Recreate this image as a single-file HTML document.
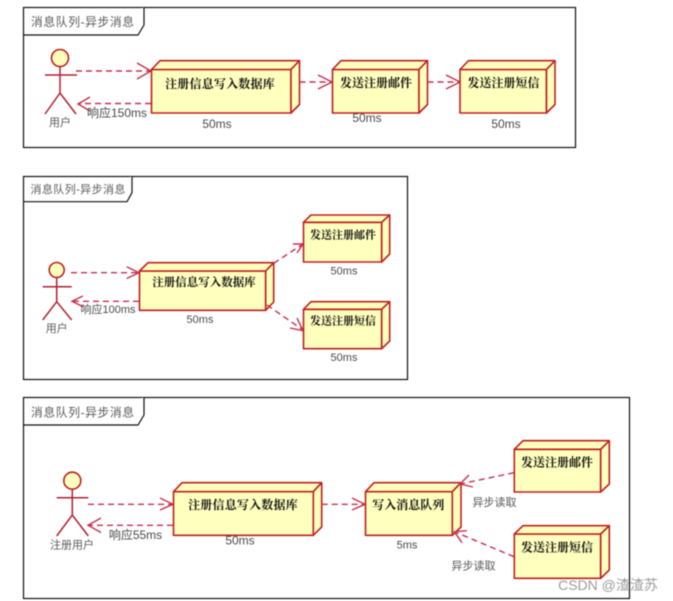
<!DOCTYPE html>
<html><head><meta charset="utf-8"><style>
html,body{margin:0;padding:0;background:#fff}
svg{display:block;filter:blur(.5px)}
text{font-family:"Liberation Sans","Noto Sans CJK SC",sans-serif;fill:#4a4a4a;font-size:12px;text-anchor:middle;dominant-baseline:central}
.t{font-size:11.8px;fill:#5a5a5a;text-anchor:start}
.n{font-family:"Liberation Serif","Noto Serif CJK SC",serif;font-weight:700;fill:#111;font-size:12px}
.f{fill:#fff;stroke:#111;stroke-width:1.2}
.b{fill:#ffffbe;stroke:#c01f1f;stroke-width:1.6;stroke-linejoin:round}
.d{fill:none;stroke:#c4304c;stroke-width:1.4;stroke-dasharray:6 4}
.h{fill:none;stroke:#c4304c;stroke-width:1.4}
.a{fill:none;stroke:#b02030;stroke-width:1.5}
.g{fill:#5a5a5a;font-size:11px}
</style></head><body>
<svg width="673" height="601" viewBox="0 0 673 601" xmlns="http://www.w3.org/2000/svg">
<rect width="673" height="601" fill="#fff"/>

<!-- Diagram 1 -->
<rect class="f" x="23.5" y="7.5" width="552" height="140"/>
<path class="f" d="M23.5 35H138L144 25V7.5"/>
<text class="t" x="31" y="22" style="font-size:11.8px;letter-spacing:.6px">消息队列-异步消息</text>

<circle class="b" cx="60" cy="58" r="8.5"/>
<path class="a" d="M45 75H77M60 66.500V93M45 114L60 93L76 114"/>
<text class="g" x="60" y="123">用户</text>
<path class="d" d="M76 71H151"/><path class="h" d="M137 63L151 71L137 79"/>
<path class="d" d="M151 103.500H78"/><path class="h" d="M90 97L78 104L90 111"/>
<text x="117" y="113">响应150ms</text>

<path class="b" d="M151.500 69.500H291V113H151.500Z"/><path class="b" d="M151.500 69.500L160 60.700H299.500L291 69.500Z"/><path class="b" d="M291 69.500L299.500 60.700V104.500L291 113Z"/>
<text class="n" x="220" y="84" style="letter-spacing:.2px">注册信息写入数据库</text>
<text x="217" y="124">50ms</text>

<path class="d" d="M299.500 82H332"/><path class="h" d="M318 75L332 82L318 89"/>
<path class="b" d="M332.500 69.500H419V113H332.500Z"/><path class="b" d="M332.500 69.500L341 60.700H427.500L419 69.500Z"/><path class="b" d="M419 69.500L427.500 60.700V104.500L419 113Z"/>
<text class="n" x="376" y="83">发送注册邮件</text>
<text x="367" y="118">50ms</text>

<path class="d" d="M427.500 82H460"/><path class="h" d="M446 75L460 82L446 89"/>
<path class="b" d="M460 69.500H546.500V113H460Z"/><path class="b" d="M460 69.500L468.500 60.700H555L546.500 69.500Z"/><path class="b" d="M546.500 69.500L555 60.700V104.500L546.500 113Z"/>
<text class="n" x="503.500" y="83">发送注册短信</text>
<text x="506" y="124">50ms</text>

<!-- Diagram 2 -->
<rect class="f" x="23.500" y="176.500" width="384" height="203"/>
<path class="f" d="M23.500 201.700H127L132 192.700V176.500"/>
<text class="t" x="30.500" y="190" style="font-size:11px;letter-spacing:.4px">消息队列-异步消息</text>

<circle class="b" cx="56.700" cy="270" r="7.500"/>
<path class="a" d="M42.700 286.700H71.700M56.700 277.500V301.700M42.700 320L56.700 301.700L71.700 320"/>
<text class="g" x="56.700" y="329">用户</text>
<path class="d" d="M71 272.700H139"/><path class="h" d="M126.700 266.700L139 272.700L126.700 278.500"/>
<path class="d" d="M139 301.300H72"/><path class="h" d="M83 296L72 301.300L83 306.700"/>
<text x="108" y="310" style="font-size:11px">响应100ms</text>

<path class="b" d="M139.500 271H265.700V310.300H139.500Z"/><path class="b" d="M139.500 271L148 262.700H273.700L265.700 271Z"/><path class="b" d="M265.700 271L273.700 262.700V302L265.700 310.300Z"/>
<text class="n" x="204" y="283" style="font-size:11.500px">注册信息写入数据库</text>
<text x="200" y="320" style="font-size:11px">50ms</text>

<path class="d" d="M273.700 263.300L303 244"/><path class="h" d="M293 244L303 244L297 253"/>
<path class="b" d="M303.500 222.300H381.700V262H303.500Z"/><path class="b" d="M303.500 222.300L311 215H389.700L381.700 222.300Z"/><path class="b" d="M381.700 222.300L389.700 215V254L381.700 262Z"/>
<text class="n" x="343" y="235.700" style="font-size:11px">发送注册邮件</text>
<text x="344" y="271.700" style="font-size:11px">50ms</text>

<path class="d" d="M267 305L303 330"/><path class="h" d="M290 328L303 330.700L297 318"/>
<path class="b" d="M303.500 309.300H381.700V348.700H303.500Z"/><path class="b" d="M303.500 309.300L311 301.700H389.700L381.700 309.300Z"/><path class="b" d="M381.700 309.300L389.700 301.700V341L381.700 348.700Z"/>
<text class="n" x="343" y="321.700" style="font-size:11px">发送注册短信</text>
<text x="344" y="358" style="font-size:11px">50ms</text>

<!-- Diagram 3 -->
<rect class="f" x="23.500" y="397.500" width="606" height="201"/>
<path class="f" d="M23.500 425H138L144 415V397.500"/>
<text class="t" x="31" y="412.700" style="font-size:11.800px;letter-spacing:.6px">消息队列-异步消息</text>

<circle class="b" cx="72.300" cy="480.700" r="8.500"/>
<path class="a" d="M56.700 497.700H88.300M72.300 489V515M56.700 536L72.300 515L88.300 536"/>
<text class="g" x="72" y="545.700">注册用户</text>
<path class="d" d="M88 504.300H173"/><path class="h" d="M160 498L173 504.300L160 510"/>
<path class="d" d="M173 525.300H88"/><path class="h" d="M101 518L88 525.300L101 532.500"/>
<text x="135.500" y="535">响应55ms</text>

<path class="b" d="M173.500 491.700H313.300V535.300H173.500Z"/><path class="b" d="M173.500 491.700L182 482.700H321.700L313.300 491.700Z"/><path class="b" d="M313.300 491.700L321.700 482.700V527L313.300 535.300Z"/>
<text class="n" x="243" y="505" style="letter-spacing:.2px">注册信息写入数据库</text>
<text x="240" y="540.700">50ms</text>

<path class="d" d="M321.700 504.300H365"/><path class="h" d="M352 498L365 504.300L352 510"/>
<path class="b" d="M365.500 491.700H452.300V535.300H365.500Z"/><path class="b" d="M365.500 491.700L374 482.700H461L452.300 491.700Z"/><path class="b" d="M452.300 491.700L461 482.700V527L452.300 535.300Z"/>
<text class="n" x="408.300" y="505">写入消息队列</text>
<text x="407" y="545.700" style="font-size:11px">5ms</text>

<path class="d" d="M514 472.700L460 484"/><path class="h" d="M469 475L460 484L473 487"/>
<path class="b" d="M514.300 449.300H600.700V492H514.300Z"/><path class="b" d="M514.300 449.300L523 440.700H609.300L600.700 449.300Z"/><path class="b" d="M600.700 449.300L609.300 440.700V484L600.700 492Z"/>
<text class="n" x="557" y="462.700">发送注册邮件</text>
<text class="g" x="494.500" y="503">异步读取</text>

<path class="d" d="M514 556.700L454.300 531.700"/><path class="h" d="M467 530.700L454.300 531.700L462 542.700"/>
<path class="b" d="M514.300 534H600.700V578.300H514.300Z"/><path class="b" d="M514.300 534L523 525.700H609.300L600.700 534Z"/><path class="b" d="M600.700 534L609.300 525.700V570L600.700 578.300Z"/>
<text class="n" x="557" y="547.700">发送注册短信</text>
<text class="g" x="473.500" y="566.700">异步读取</text>

<text x="608" y="585" style="font-size:14px;fill:#8a8a8a;fill-opacity:.85">CSDN @渣渣苏</text>
</svg>
</body></html>
